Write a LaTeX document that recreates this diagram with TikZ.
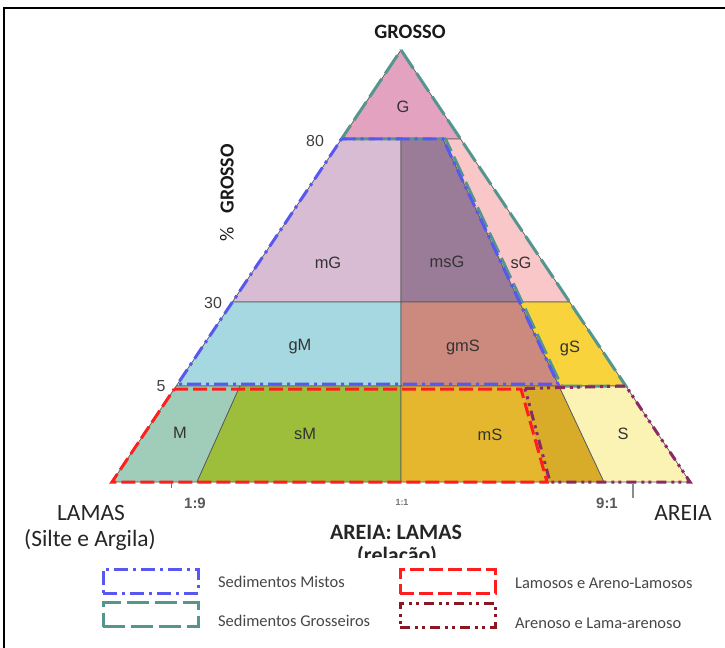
\documentclass[tikz,border=0pt]{standalone}
\usepackage{fontspec}
\setmainfont{Liberation Sans}
\newfontfamily\calib{Carlito}
\newfontfamily\arial{Liberation Sans}

% zone fills
\definecolor{cG}{RGB}{227,162,191}
\definecolor{cmG}{RGB}{216,188,211}
\definecolor{cmsG}{RGB}{154,124,152}
\definecolor{csG}{RGB}{250,199,200}
\definecolor{cgM}{RGB}{166,216,226}
\definecolor{cgmS}{RGB}{204,138,126}
\definecolor{cgS}{RGB}{249,211,60}
\definecolor{cM}{RGB}{160,205,186}
\definecolor{csM}{RGB}{157,190,58}
\definecolor{cmS}{RGB}{229,183,46}
\definecolor{cmSd}{RGB}{216,172,40}
\definecolor{cS}{RGB}{251,243,180}
% group outlines
\definecolor{oblue}{RGB}{88,88,240}
\definecolor{oteal}{RGB}{84,150,142}
\definecolor{ored}{RGB}{255,30,30}
\definecolor{omar}{RGB}{140,40,100}
\definecolor{omarleg}{RGB}{140,22,36}

\begin{document}
\begin{tikzpicture}[x=1bp,y=-1bp,
  zone/.style={draw=black!65,line width=0.7bp,line join=round},
  zlabel/.style={font=\arial\fontsize{16.5}{16.5}\selectfont,text=black!80,inner sep=0},
  scalelab/.style={font=\arial\fontsize{16}{16}\selectfont,text=black!75,inner sep=0},
  ratiolab/.style={font=\arial\bfseries\fontsize{15}{15}\selectfont,text=black!65,inner sep=0},
  axislab/.style={font=\calib\fontsize{23.5}{23.5}\selectfont,text=black!85,inner sep=0},
  legtext/.style={font=\calib\fontsize{16.5}{16.5}\selectfont,text=black!72,inner sep=0,anchor=west},
  mixline/.style={draw=oblue,line width=3bp,dash pattern=on 14bp off 5bp on 3bp off 5bp},
  coarseline/.style={draw=oteal,line width=3bp,dash pattern=on 22bp off 6bp},
  mudline/.style={draw=ored,line width=3bp,dash pattern=on 14bp off 5bp},
  sandline/.style={draw=omar,line width=3bp,dash pattern=on 10bp off 5bp on 3bp off 4bp on 3bp off 5bp},
  legbox/.style={minimum width=95bp,minimum height=24bp,inner sep=0,line width=3bp}
]
\useasboundingbox (0,0) rectangle (725,648);
\fill[white] (0,0) rectangle (725,648);

% page frame
\coordinate (ftl) at (4,8);
\coordinate (ftr) at (725,8);
\coordinate (fbl) at (4,648);
\draw[line width=2bp] (ftr) -- (ftl) -- (fbl);

% corner points of the zones
\coordinate (A)   at (401,50);
\coordinate (L80) at (341.5,139);
\coordinate (C80) at (401,139);
\coordinate (N80) at (443,139);
\coordinate (R80) at (460.5,139);
\coordinate (L30) at (232.4,302);
\coordinate (C30) at (401,302);
\coordinate (N30) at (519.5,302);
\coordinate (R30) at (569.6,302);
\coordinate (L5)  at (176.2,386);
\coordinate (P5)  at (240,386);
\coordinate (C5)  at (401,386);
\coordinate (Q5)  at (522,386);
\coordinate (N5)  at (559,386);
\coordinate (R5)  at (625.8,386);
\coordinate (LB)  at (112,482);
\coordinate (PB)  at (197,482);
\coordinate (CB)  at (401,482);
\coordinate (QB)  at (547,482);
\coordinate (SB)  at (604,482);
\coordinate (RB)  at (690,482);

% zones
\path[zone,fill=cG]   (A) -- (R80) -- (L80) -- cycle;
\path[zone,fill=cmG]  (L80) -- (C80) -- (C30) -- (L30) -- cycle;
\path[zone,fill=cmsG] (C80) -- (N80) -- (N30) -- (C30) -- cycle;
\path[zone,fill=csG]  (N80) -- (R80) -- (R30) -- (N30) -- cycle;
\path[zone,fill=cgM]  (L30) -- (C30) -- (C5) -- (L5) -- cycle;
\path[zone,fill=cgmS] (C30) -- (N30) -- (N5) -- (C5) -- cycle;
\path[zone,fill=cgS]  (N30) -- (R30) -- (R5) -- (N5) -- cycle;
\path[zone,fill=cM]   (L5) -- (P5) -- (PB) -- (LB) -- cycle;
\path[zone,fill=csM]  (P5) -- (C5) -- (CB) -- (PB) -- cycle;
\fill[cmS]  (C5) -- (N5) -- (SB) -- (CB) -- cycle;
\fill[cmSd] (Q5) -- (N5) -- (SB) -- (QB) -- cycle;
\path[zone] (C5) -- (N5) -- (SB) -- (CB) -- cycle;
\path[zone,fill=cS]   (N5) -- (R5) -- (RB) -- (SB) -- cycle;

% group outlines
\coordinate (N80t) at (445.5,139);
\coordinate (N5t)  at (561.5,386);
\draw[coarseline] (A) -- (R5) -- (N5t) -- (N80t) -- (L80) -- cycle;

\coordinate (N5b) at (558,384);
\coordinate (L5b) at (177.6,384);
\draw[mixline] (L80) -- (N80) -- (N5b) -- (L5b) -- cycle;

\coordinate (Q5m) at (525,388.5);
\coordinate (QBm) at (550,482);
\draw[sandline] (Q5m) -- (R5) -- (RB) -- (QBm) -- cycle;

\coordinate (L5r) at (174.2,389);
\coordinate (Q5r) at (521,389);
\draw[mudline] (L5r) -- (Q5r) -- (QB) -- (LB) -- cycle;

% zone labels
\node[zlabel] (tG)   at (403,107) {G};
\node[zlabel] (tmG)  at (328,263) {mG};
\node[zlabel] (tmsG) at (447,262) {msG};
\node[zlabel] (tsG)  at (521,263) {sG};
\node[zlabel] (tgM)  at (300,347) {gM};
\node[zlabel] (tgmS) at (463,347) {gmS};
\node[zlabel] (tgS)  at (570,348) {gS};
\node[zlabel] (tM)   at (180,433) {M};
\node[zlabel] (tsM)  at (305,434) {sM};
\node[zlabel] (tmS)  at (490,435) {mS};
\node[zlabel] (tS)   at (623,434) {S};

% gravel scale
\node[scalelab] (s80) at (315,141) {80};
\node[scalelab] (s30) at (213,303) {30};
\node[scalelab] (s5)  at (161,386) {5};

% apex and axis titles
\node[font=\calib\bfseries\fontsize{20.5}{20.5}\selectfont,text=black!90,inner sep=0] (top) at (410,32) {GROSSO};
\node[font=\calib\fontsize{20}{20}\selectfont,text=black!90,inner sep=0,rotate=90] (pct) at (227,193) {\%\hspace{0.7em}\bfseries GROSSO};

\node[axislab] (lamas) at (91,513) {LAMAS};
\node[axislab] (silte) at (90,540) {(Silte e Argila)};
\node[axislab] (areia) at (683,513) {AREIA};
\node[axislab,font=\calib\bfseries\fontsize{22}{22}\selectfont] (ratio) at (396,532) {AREIA: LAMAS};
\begin{scope}
  \clip (300,540) rectangle (500,557);
  \node[axislab,font=\calib\bfseries\fontsize{22}{22}\selectfont] (rel) at (397,556) {(relação)};
\end{scope}

% sand:mud ratio marks
\coordinate (k19a) at (171,483);
\coordinate (k19b) at (171,488);
\draw[black!55,line width=1bp] (k19a) -- (k19b);
\coordinate (k91a) at (633,484);
\coordinate (k91b) at (633,498);
\draw[black!45,line width=1.5bp] (k91a) -- (k91b);
\node[ratiolab] (r19) at (195,503) {1:9};
\node[ratiolab,font=\arial\bfseries\fontsize{9}{9}\selectfont,text=black!55] (r11) at (402,502) {1:1};
\node[ratiolab] (r91) at (607,503) {9:1};

% legend
\node[legbox,mixline] (kmix) at (150.5,581) {};
\node[legtext] (lmix) at (218,582) {Sedimentos Mistos};
\node[legbox,coarseline] (kcoarse) at (150.5,614.5) {};
\node[legtext] (lcoarse) at (218,621) {Sedimentos Grosseiros};
\node[legbox,mudline] (kmud) at (447.5,581.5) {};
\node[legtext] (lmud) at (515,583) {Lamosos e Areno-Lamosos};
\node[legbox,sandline,draw=omarleg] (ksand) at (447.5,615) {};
\node[legtext] (lsand) at (515,623) {Arenoso e Lama-arenoso};
\end{tikzpicture}
\end{document}
